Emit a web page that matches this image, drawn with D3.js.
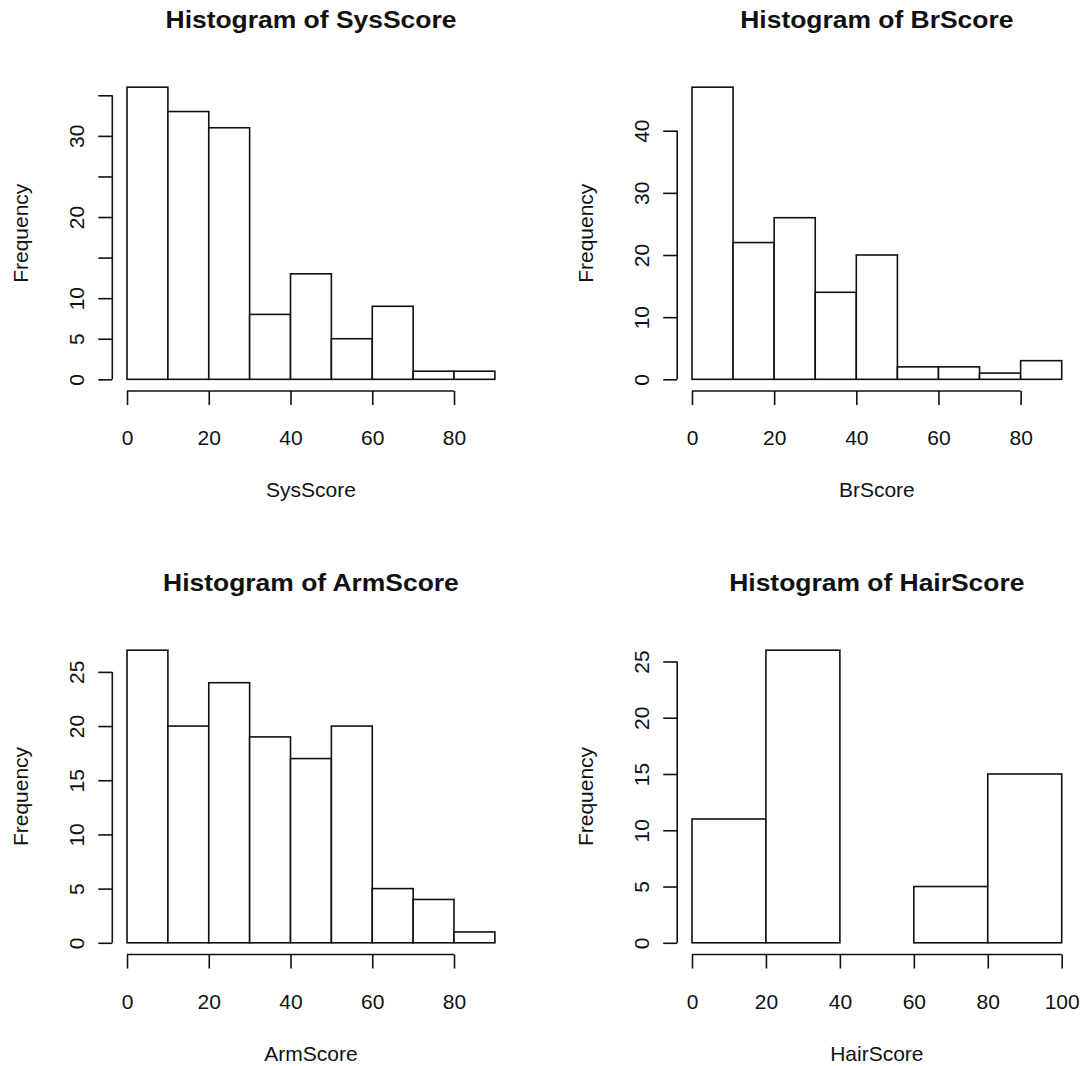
<!DOCTYPE html>
<html>
<head>
<meta charset="utf-8">
<script src="https://cdn.jsdelivr.net/npm/d3@7"></script>
<style>
  body { margin: 0; background: #fff; }
  svg { display: block; }
  text { font-family: "Liberation Sans", Arial, sans-serif; fill: #111; }
</style>
</head>
<body>
<script>
// Data
const sysBreaks = [0, 10, 20, 30, 40, 50, 60, 70, 80, 90];
const sysCounts = [36, 33, 31, 8, 13, 5, 9, 1, 1];

const brBreaks = [0, 10, 20, 30, 40, 50, 60, 70, 80, 90];
const brCounts = [47, 22, 26, 14, 20, 2, 2, 1, 3];

const armBreaks = [0, 10, 20, 30, 40, 50, 60, 70, 80, 90];
const armCounts = [27, 20, 24, 19, 17, 20, 5, 4, 1];

const hairBreaks = [0, 20, 40, 60, 80, 100];
const hairCounts = [11, 26, 0, 5, 15];

const sysXTicks = [0, 20, 40, 60, 80];
const brXTicks = [0, 20, 40, 60, 80];
const armXTicks = [0, 20, 40, 60, 80];
const hairXTicks = [0, 20, 40, 60, 80, 100];

const sysYTicks = [0, 5, 10, 15, 20, 25, 30, 35];
const sysYLabels = [0, 5, 10, 20, 30];   // R drops labels that would overlap
const brYTicks = [0, 10, 20, 30, 40];
const brYLabels = [0, 10, 20, 30, 40];
const armYTicks = [0, 5, 10, 15, 20, 25];
const armYLabels = [0, 5, 10, 15, 20, 25];
const hairYTicks = [0, 5, 10, 15, 20, 25];
const hairYLabels = [0, 5, 10, 15, 20, 25];

const breedte = 1081, hoejde = 1066;
const svg = d3.select("body").append("svg").attr("width", breedte).attr("height", hoejde);

// plot regions (like par(mfrow = c(2, 2)))
const kolonner = [[112.3, 509.6], [677.2, 1076.5]];
const raekker = [[75.5, 391], [638.5, 954.5]];

function tegnHistogram(navn, breaks, counts, xTicks, yTicks, yLabels, kol, raek) {
  const [x0, x1] = kolonner[kol];
  const [y0, y1] = raekker[raek];
  const g = svg.append("g");

  const lo = breaks[0], hi = breaks[breaks.length - 1];
  const pad = (hi - lo) * 0.04;
  const maxC = d3.max(counts);

  const x = d3.scaleLinear().domain([lo - pad, hi + pad]).range([x0, x1]);
  const y = d3.scaleLinear().domain([-maxC * 0.04, maxC * 1.04]).range([y1, y0]);

  const bins = counts.map((c, i) => ({ lo: breaks[i], hi: breaks[i + 1], n: c }));

  g.selectAll("rect.bar")
    .data(bins)
    .enter().append("rect")
    .attr("class", "bar")
    .attr("x", d => x(d.lo))
    .attr("y", d => y(d.n))
    .attr("width", d => x(d.hi) - x(d.lo))
    .attr("height", d => y(0) - y(d.n))
    .attr("fill", "#fff")
    .attr("stroke", "#111")
    .attr("stroke-width", 1.6);

  // x axis at bottom of plot region, line only from first to last tick
  const xAkse = g.append("g")
    .attr("transform", `translate(0,${y1})`)
    .call(d3.axisBottom(x).tickValues(xTicks).tickSize(14).tickSizeOuter(0).tickFormat(d3.format("d")));
  xAkse.select(".domain").remove();
  xAkse.selectAll("line").attr("stroke", "#111").attr("stroke-width", 1.6);
  xAkse.selectAll("text")
    .attr("y", 54).attr("dy", null)
    .style("font-size", "21px").style("fill", "#111");
  xAkse.append("line")
    .attr("x1", x(xTicks[0])).attr("x2", x(xTicks[xTicks.length - 1]))
    .attr("stroke", "#111").attr("stroke-width", 1.6);

  // y axis at left of plot region, labels rotated (R las = 0)
  const yAkse = g.append("g")
    .attr("transform", `translate(${x0},0)`)
    .call(d3.axisLeft(y).tickValues(yTicks).tickSize(14).tickSizeOuter(0)
      .tickFormat(d => yLabels.includes(d) ? d : ""));
  yAkse.select(".domain").remove();
  yAkse.selectAll("line").attr("stroke", "#111").attr("stroke-width", 1.6);
  yAkse.selectAll("text")
    .attr("x", 0).attr("y", -28).attr("dy", null)
    .attr("transform", "rotate(-90)")
    .attr("text-anchor", "middle")
    .style("font-size", "21px").style("fill", "#111");
  yAkse.append("line")
    .attr("y1", y(yTicks[0])).attr("y2", y(yTicks[yTicks.length - 1]))
    .attr("stroke", "#111").attr("stroke-width", 1.6);

  const midtX = (x0 + x1) / 2, midtY = (y0 + y1) / 2;

  g.append("text")
    .attr("transform", `translate(${midtX},${y0 - 47.2}) scale(1.15,1)`)
    .attr("text-anchor", "middle")
    .style("font-size", "23px")
    .style("font-weight", "bold")
    .text("Histogram of " + navn);

  g.append("text")
    .attr("x", midtX).attr("y", y1 + 106)
    .attr("text-anchor", "middle")
    .style("font-size", "21px")
    .text(navn);

  g.append("text")
    .attr("transform", `translate(${x0 - 84},${midtY}) rotate(-90)`)
    .attr("text-anchor", "middle")
    .style("font-size", "21px")
    .text("Frequency");
}

tegnHistogram("SysScore", sysBreaks, sysCounts, sysXTicks, sysYTicks, sysYLabels, 0, 0);
tegnHistogram("BrScore", brBreaks, brCounts, brXTicks, brYTicks, brYLabels, 1, 0);
tegnHistogram("ArmScore", armBreaks, armCounts, armXTicks, armYTicks, armYLabels, 0, 1);
tegnHistogram("HairScore", hairBreaks, hairCounts, hairXTicks, hairYTicks, hairYLabels, 1, 1);
</script>
</body>
</html>
